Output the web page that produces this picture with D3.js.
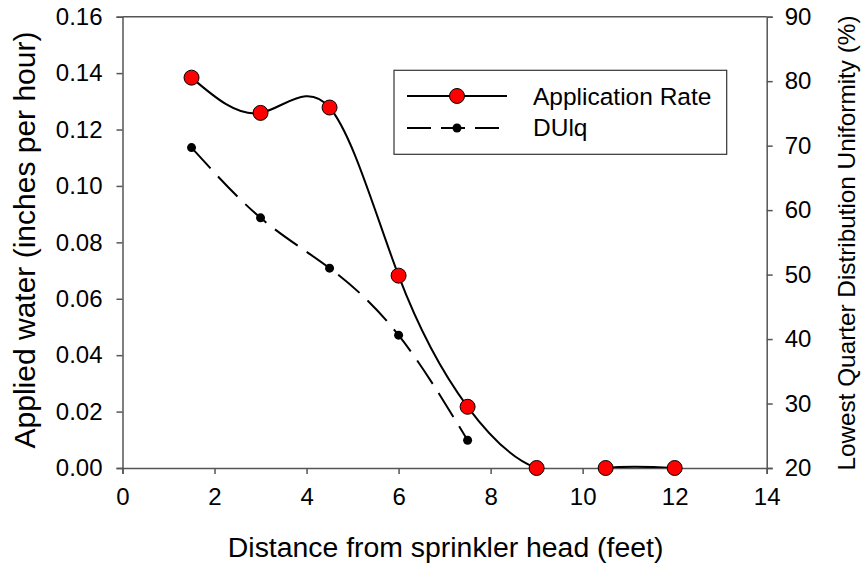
<!DOCTYPE html>
<html><head><meta charset="utf-8">
<script src="https://cdn.jsdelivr.net/npm/d3@7"></script>
<style>body{margin:0;background:#fff}svg{display:block}text{font-family:"Liberation Sans",Arial,sans-serif;fill:#000}</style>
</head><body><svg id="c" width="861" height="567"></svg>
<script>
const distance = [1.5, 3, 4.5, 6, 7.5, 9, 10.5, 12];
const appRate  = [0.1384, 0.1259, 0.1278, 0.0682, 0.0217, 0.0, 0.0, 0.0];
const duDist   = [1.5, 3, 4.5, 6, 7.5];
const duLQ     = [69.7, 58.8, 51.0, 40.6, 24.3];
const xTicks = [0, 2, 4, 6, 8, 10, 12, 14];
const yLeftTicks = [0, 0.02, 0.04, 0.06, 0.08, 0.10, 0.12, 0.14, 0.16];
const yRightTicks = [20, 30, 40, 50, 60, 70, 80, 90];
const seriesNames = ["Application Rate", "DUlq"];

const svg = d3.select("#c");
const L = 122.5, R = 766.7, T = 16.7, B = 468;
const x = d3.scaleLinear().domain([0, 14]).range([L, R]);
const yL = d3.scaleLinear().domain([0, 0.16]).range([B, T]);
const yR = d3.scaleLinear().domain([20, 90]).range([B, T]);
const axisColor = "#555";

svg.append("defs").append("clipPath").attr("id", "clip")
  .append("rect").attr("x", L).attr("y", T).attr("width", R - L).attr("height", B - T);

// frame top
svg.append("line").attr("x1", L).attr("x2", R).attr("y1", T).attr("y2", T)
  .attr("stroke", axisColor).attr("stroke-width", 1.5);

function styleAxis(g) {
  g.selectAll("path").attr("stroke", axisColor).attr("stroke-width", 1.5);
  g.selectAll("line").attr("stroke", axisColor).attr("stroke-width", 1.5);
  g.selectAll("text").attr("font-size", 24).attr("fill", "#000")
    .attr("font-family", "Liberation Sans, Arial, sans-serif");
}

const gx = svg.append("g").attr("transform", `translate(0,${B})`)
  .call(d3.axisBottom(x).tickValues(xTicks).tickFormat(d3.format("d")).tickSizeOuter(0).tickSize(6).tickPadding(14));
styleAxis(gx);
const gyl = svg.append("g").attr("transform", `translate(${L},0)`)
  .call(d3.axisLeft(yL).tickValues(yLeftTicks).tickFormat(d3.format(".2f")).tickSizeOuter(0).tickSize(6).tickPadding(14));
styleAxis(gyl);
const gyr = svg.append("g").attr("transform", `translate(${R},0)`)
  .call(d3.axisRight(yR).tickValues(yRightTicks).tickFormat(d3.format("d")).tickSizeOuter(0).tickSize(6).tickPadding(12));
styleAxis(gyr);

// titles
svg.append("text").attr("x", (L + R) / 2 + 1).attr("y", 557).attr("text-anchor", "middle")
  .attr("font-size", 28.4).text("Distance from sprinkler head (feet)");
svg.append("text").attr("transform", `translate(34.5,240) rotate(-90)`).attr("text-anchor", "middle")
  .attr("font-size", 30).text("Applied water (inches per hour)");
svg.append("text").attr("transform", `translate(855,243) rotate(-90)`).attr("text-anchor", "middle")
  .attr("font-size", 24.3).text("Lowest Quarter Distribution Uniformity (%)");

// series
const appData = distance.map((d, i) => [d, appRate[i]]);
const duData = duDist.map((d, i) => [d, duLQ[i]]);

const lineApp = d3.line().x(d => x(d[0])).y(d => yL(d[1])).curve(d3.curveNatural);
const lineDU = d3.line().x(d => x(d[0])).y(d => yR(d[1])).curve(d3.curveNatural);

svg.append("path").datum(duData).attr("d", lineDU).attr("fill", "none")
  .attr("stroke", "#000").attr("stroke-width", 2).attr("stroke-dasharray", "28,11")
  .attr("clip-path", "url(#clip)");
svg.append("path").datum(appData).attr("d", lineApp).attr("fill", "none")
  .attr("stroke", "#000").attr("stroke-width", 2).attr("clip-path", "url(#clip)");

svg.selectAll(".du").data(duData).enter().append("circle")
  .attr("cx", d => x(d[0])).attr("cy", d => yR(d[1])).attr("r", 4.5).attr("fill", "#000");
svg.selectAll(".ap").data(appData).enter().append("circle")
  .attr("cx", d => x(d[0])).attr("cy", d => yL(d[1])).attr("r", 7.5)
  .attr("fill", "#ff0000").attr("stroke", "#000").attr("stroke-width", 1);

// legend
const lg = svg.append("g");
lg.append("rect").attr("x", 394).attr("y", 70.3).attr("width", 332.7).attr("height", 84)
  .attr("fill", "#fff").attr("stroke", "#333").attr("stroke-width", 1.2);
lg.append("line").attr("x1", 407).attr("x2", 507).attr("y1", 96).attr("y2", 96)
  .attr("stroke", "#000").attr("stroke-width", 2);
lg.append("circle").attr("cx", 457).attr("cy", 96).attr("r", 7.5)
  .attr("fill", "#ff0000").attr("stroke", "#000").attr("stroke-width", 1);
lg.append("text").attr("x", 533).attr("y", 105).attr("font-size", 24.5).text(seriesNames[0]);
lg.append("line").attr("x1", 407).attr("x2", 500).attr("y1", 128).attr("y2", 128)
  .attr("stroke", "#000").attr("stroke-width", 2).attr("stroke-dasharray", "24,10");
lg.append("circle").attr("cx", 457).attr("cy", 128).attr("r", 4.5).attr("fill", "#000");
lg.append("text").attr("x", 533).attr("y", 136).attr("font-size", 24.5).text(seriesNames[1]);
</script></body></html>
